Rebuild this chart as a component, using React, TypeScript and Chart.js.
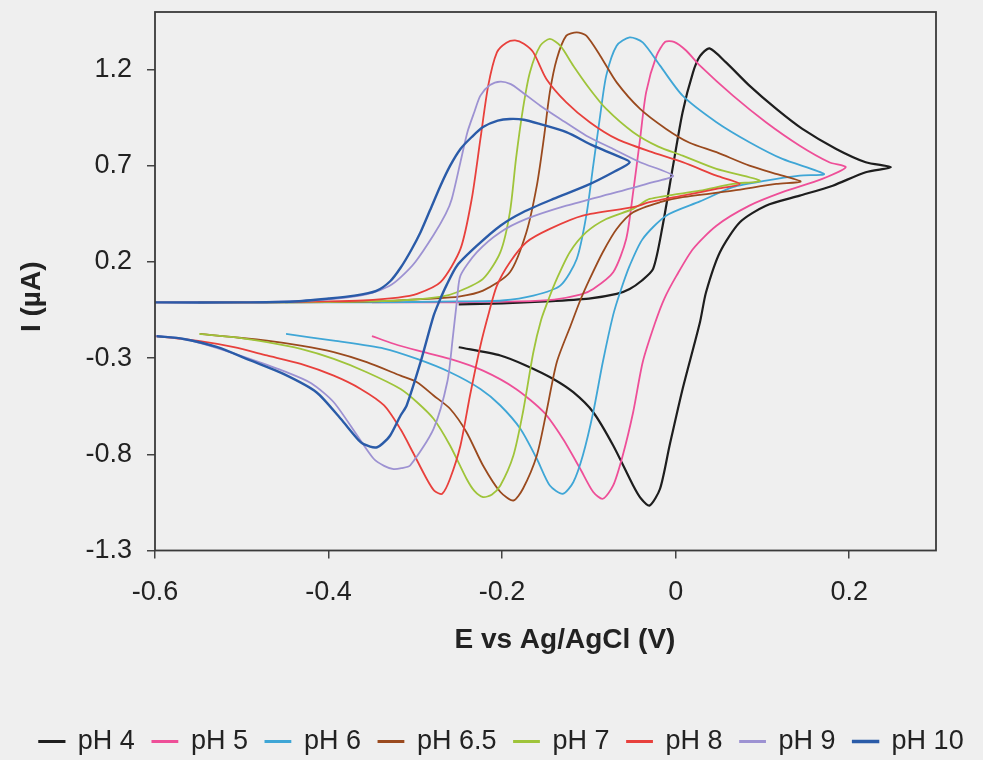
import { useEffect, useRef } from "react";
import { Chart, registerables } from "chart.js";

Chart.register(...registerables);

// ---------- data ----------
const SERIES_NAMES = ["pH 4", "pH 5", "pH 6", "pH 6.5", "pH 7", "pH 8", "pH 9", "pH 10"];
const X_TICKS = [-0.6, -0.4, -0.2, 0, 0.2];
const Y_TICKS = [-1.3, -0.8, -0.3, 0.2, 0.7, 1.2];
const X_TITLE = "E vs Ag/AgCl (V)";
const Y_TITLE = "I (µA)";

const E_PH4 = [-0.25, -0.2, -0.15, -0.1, -0.068, -0.053, -0.04, -0.026, -0.015, -0.003, 0.008, 0.02, 0.028, 0.039, 0.058, 0.085, 0.116, 0.146, 0.185, 0.219, 0.248,
  0.219, 0.181, 0.143, 0.104, 0.074, 0.051, 0.035, 0.028, 0.008, -0.007, -0.018, -0.03, -0.04, -0.049, -0.072, -0.095, -0.118, -0.141, -0.172, -0.202, -0.25];
const I_PH4 = [-0.02, -0.015, -0.005, 0.01, 0.034, 0.06, 0.1, 0.164, 0.389, 0.701, 0.979, 1.186, 1.27, 1.311, 1.238, 1.117, 0.996, 0.892, 0.788, 0.719, 0.693,
  0.667, 0.597, 0.545, 0.493, 0.407, 0.251, 0.043, -0.113, -0.46, -0.754, -0.979, -1.066, -1.03, -0.962, -0.754, -0.581, -0.477, -0.408, -0.339, -0.286, -0.243];

const E_PH5 = [-0.35, -0.25, -0.18, -0.14, -0.11, -0.095, -0.072, -0.057, -0.049, -0.041, -0.034, -0.022, -0.012, -0.002, 0.012, 0.028, 0.066, 0.104, 0.143, 0.177, 0.196,
  0.169, 0.123, 0.085, 0.047, 0.02, 0.001, -0.013, -0.024, -0.038, -0.049, -0.061, -0.072, -0.084, -0.095, -0.11, -0.13, -0.152, -0.184, -0.222, -0.26, -0.298, -0.325, -0.35];
const I_PH5 = [-0.01, -0.01, -0.005, 0.005, 0.03, 0.06, 0.147, 0.32, 0.563, 0.84, 1.083, 1.273, 1.345, 1.345, 1.3, 1.221, 1.065, 0.927, 0.805, 0.719, 0.693,
  0.632, 0.563, 0.493, 0.389, 0.268, 0.129, 0.01, -0.12, -0.321, -0.581, -0.806, -0.962, -1.031, -0.996, -0.875, -0.719, -0.581, -0.46, -0.365, -0.304, -0.26, -0.225, -0.185];

const E_PH6 = [-0.45, -0.35, -0.25, -0.2, -0.164, -0.133, -0.114, -0.103, -0.095, -0.087, -0.08, -0.068, -0.053, -0.038, -0.018, 0.008, 0.047, 0.085, 0.123, 0.171,
  0.143, 0.104, 0.066, 0.028, -0.011, -0.038, -0.053, -0.064, -0.072, -0.084, -0.095, -0.107, -0.118, -0.13, -0.145, -0.16, -0.179, -0.202, -0.225, -0.26, -0.298, -0.336, -0.394, -0.449];
const I_PH6 = [-0.01, -0.01, -0.005, 0.0, 0.025, 0.077, 0.216, 0.441, 0.701, 0.961, 1.169, 1.325, 1.368, 1.342, 1.221, 1.065, 0.927, 0.823, 0.736, 0.658,
  0.649, 0.623, 0.589, 0.515, 0.441, 0.32, 0.181, 0.043, -0.075, -0.321, -0.581, -0.806, -0.945, -1.005, -0.962, -0.823, -0.667, -0.546, -0.46, -0.373, -0.304, -0.25, -0.209, -0.174];

const E_PH65 = [-0.55, -0.45, -0.35, -0.28, -0.25, -0.222, -0.191, -0.172, -0.16, -0.152, -0.145, -0.137, -0.126, -0.114, -0.103, -0.087, -0.068, -0.041, -0.011, 0.016, 0.047, 0.085, 0.123, 0.144,
  0.116, 0.066, 0.008, -0.018, -0.049, -0.068, -0.084, -0.099, -0.11, -0.121, -0.137, -0.149, -0.16, -0.176, -0.187, -0.202, -0.222, -0.241, -0.26, -0.279, -0.298, -0.317, -0.356, -0.394, -0.432, -0.471, -0.509, -0.548];
const I_PH65 = [-0.01, -0.01, -0.005, 0.01, 0.02, 0.051, 0.147, 0.355, 0.597, 0.84, 1.083, 1.256, 1.377, 1.394, 1.377, 1.273, 1.134, 0.996, 0.892, 0.82, 0.771, 0.701, 0.649, 0.618,
  0.606, 0.571, 0.537, 0.511, 0.459, 0.372, 0.251, 0.112, 0.0, -0.13, -0.321, -0.581, -0.806, -0.979, -1.04, -0.996, -0.858, -0.685, -0.563, -0.494, -0.425, -0.391, -0.321, -0.269, -0.235, -0.209, -0.191, -0.174];

const E_PH7 = [-0.55, -0.45, -0.35, -0.3, -0.27, -0.252, -0.222, -0.202, -0.191, -0.184, -0.176, -0.168, -0.156, -0.145, -0.133, -0.118, -0.099, -0.08, -0.049, -0.02, 0.008, 0.047, 0.097,
  0.066, 0.028, -0.03, -0.049, -0.08, -0.103, -0.122, -0.137, -0.147, -0.155, -0.164, -0.176, -0.187, -0.202, -0.212, -0.222, -0.232, -0.241, -0.26, -0.279, -0.298, -0.317, -0.356, -0.394, -0.432, -0.471, -0.509, -0.549];
const I_PH7 = [-0.01, -0.01, -0.005, 0.005, 0.02, 0.043, 0.112, 0.251, 0.459, 0.736, 0.996, 1.186, 1.325, 1.36, 1.325, 1.221, 1.1, 0.996, 0.875, 0.8, 0.753, 0.684, 0.623,
  0.606, 0.571, 0.528, 0.476, 0.424, 0.355, 0.251, 0.112, 0.0, -0.1, -0.269, -0.581, -0.806, -0.962, -1.01, -1.022, -0.99, -0.927, -0.754, -0.615, -0.529, -0.46, -0.373, -0.304, -0.252, -0.217, -0.191, -0.174];

const E_PH8 = [-0.6, -0.5, -0.4, -0.36, -0.32, -0.298, -0.271, -0.248, -0.235, -0.225, -0.216, -0.206, -0.195, -0.185, -0.175, -0.164, -0.149, -0.126, -0.099, -0.068, -0.03, 0.008, 0.047, 0.074,
  0.047, 0.008, -0.03, -0.049, -0.107, -0.145, -0.172, -0.191, -0.206, -0.215, -0.225, -0.237, -0.248, -0.26, -0.269, -0.278, -0.287, -0.303, -0.317, -0.336, -0.363, -0.394, -0.432, -0.471, -0.509, -0.55, -0.6];
const I_PH8 = [-0.01, -0.01, -0.005, 0.0, 0.015, 0.034, 0.095, 0.268, 0.528, 0.84, 1.117, 1.29, 1.34, 1.352, 1.335, 1.29, 1.152, 1.03, 0.927, 0.84, 0.775, 0.719, 0.649, 0.606,
  0.58, 0.545, 0.511, 0.485, 0.441, 0.372, 0.303, 0.199, 0.077, -0.06, -0.235, -0.494, -0.754, -0.927, -1.005, -0.99, -0.927, -0.788, -0.67, -0.546, -0.46, -0.391, -0.33, -0.286, -0.243, -0.21, -0.185];

const E_PH9 = [-0.6, -0.5, -0.42, -0.38, -0.35, -0.33, -0.317, -0.3, -0.279, -0.265, -0.258, -0.248, -0.24, -0.232, -0.225, -0.214, -0.202, -0.19, -0.179, -0.156, -0.133, -0.103, -0.072, -0.041, -0.003,
  -0.026, -0.068, -0.126, -0.172, -0.202, -0.229, -0.248, -0.252, -0.257, -0.263, -0.279, -0.306, -0.316, -0.325, -0.336, -0.348, -0.367, -0.394, -0.42, -0.45, -0.49, -0.53, -0.567, -0.6];
const I_PH9 = [-0.01, -0.01, 0.0, 0.015, 0.04, 0.075, 0.12, 0.2, 0.34, 0.45, 0.528, 0.72, 0.875, 0.98, 1.065, 1.12, 1.138, 1.125, 1.091, 1.013, 0.944, 0.857, 0.788, 0.719, 0.649,
  0.615, 0.563, 0.493, 0.424, 0.355, 0.251, 0.129, 0.0, -0.2, -0.42, -0.667, -0.858, -0.872, -0.877, -0.86, -0.823, -0.702, -0.529, -0.43, -0.37, -0.305, -0.245, -0.2, -0.183];

const E_PH10 = [-0.6, -0.5, -0.44, -0.4, -0.37, -0.345, -0.329, -0.317, -0.305, -0.294, -0.283, -0.271, -0.26, -0.248, -0.235, -0.222, -0.205, -0.191, -0.175, -0.156, -0.126, -0.095, -0.068, -0.053,
  -0.072, -0.103, -0.141, -0.176, -0.202, -0.229, -0.252, -0.264, -0.272, -0.279, -0.294, -0.31, -0.317, -0.329, -0.338, -0.344, -0.352, -0.363, -0.386, -0.414, -0.452, -0.49, -0.528, -0.567, -0.598];
const I_PH10 = [-0.01, -0.01, -0.005, 0.01, 0.025, 0.05, 0.1, 0.17, 0.26, 0.355, 0.47, 0.597, 0.7, 0.788, 0.85, 0.902, 0.935, 0.944, 0.94, 0.917, 0.875, 0.805, 0.753, 0.719,
  0.667, 0.597, 0.528, 0.459, 0.389, 0.285, 0.181, 0.08, 0.0, -0.08, -0.321, -0.546, -0.598, -0.702, -0.745, -0.763, -0.76, -0.737, -0.615, -0.477, -0.382, -0.312, -0.243, -0.2, -0.186];

const SERIES_E = [E_PH4, E_PH5, E_PH6, E_PH65, E_PH7, E_PH8, E_PH9, E_PH10];
const SERIES_I = [I_PH4, I_PH5, I_PH6, I_PH65, I_PH7, I_PH8, I_PH9, I_PH10];

// ---------- styles ----------
const COLORS = ["#1e1e1e", "#ee4f98", "#3fa6d6", "#9a4a1e", "#9fc43a", "#e8403c", "#9d92d2", "#2a5ba8"];
const WIDTHS = [2.2, 1.8, 1.8, 1.8, 1.8, 1.8, 1.8, 2.4];
const FONT = "'Liberation Sans', Arial, Helvetica, sans-serif";
const TEXT = "#222222";

const framePlugin = {
  id: "frame",
  afterDatasetsDraw(chart: any) {
    const { ctx, chartArea } = chart;
    ctx.save();
    ctx.strokeStyle = "#3a3a3a";
    ctx.lineWidth = 1.8;
    ctx.strokeRect(chartArea.left, chartArea.top, chartArea.right - chartArea.left, chartArea.bottom - chartArea.top);
    ctx.restore();
  },
};

const fmt = (v: number) => (Math.abs(v) < 1e-9 ? "0" : v.toFixed(1));
const noPad = (s: any) => { s.paddingTop = 0; s.paddingBottom = 0; s.paddingLeft = 0; s.paddingRight = 0; };

export default function App() {
  const ref = useRef<HTMLCanvasElement>(null);

  useEffect(() => {
    const canvas = ref.current;
    if (!canvas) return;
    const datasets = SERIES_NAMES.map((name, k) => ({
      label: name,
      data: SERIES_E[k].map((e, j) => ({ x: e, y: SERIES_I[k][j] })),
      borderColor: COLORS[k],
      backgroundColor: COLORS[k],
      borderWidth: WIDTHS[k],
      pointRadius: 0,
      showLine: true,
      tension: 0.25,
      fill: false,
      order: SERIES_NAMES.length - 1 - k,
    }));

    const chart = new Chart(canvas, {
      type: "scatter",
      data: { datasets },
      plugins: [framePlugin],
      options: {
        animation: false,
        responsive: true,
        maintainAspectRatio: false,
        layout: { padding: { left: 20, right: 0, top: 12, bottom: -5 } },
        plugins: {
          tooltip: { enabled: false },
          legend: {
            position: "bottom",
            labels: {
              boxWidth: 25,
              boxHeight: 1,
              padding: 17.5,
              color: TEXT,
              font: { family: FONT, size: 27 },
              sort: (a: any, b: any) => a.datasetIndex - b.datasetIndex,
            },
          },
        },
        scales: {
          x: {
            type: "linear",
            min: -0.6,
            max: 0.3,
            afterBuildTicks: (s: any) => { s.ticks = X_TICKS.map((v) => ({ value: v })); },
            afterFit: (s: any) => { s.height = 160; noPad(s); },
            ticks: { color: TEXT, font: { family: FONT, size: 27 }, padding: 18, maxRotation: 0, autoSkip: false, callback: (v: any) => fmt(Number(v)) },
            grid: { display: true, drawOnChartArea: false, drawTicks: true, tickLength: 8, color: "#444", lineWidth: 1.5 },
            border: { display: false },
            title: { display: true, text: "     " + X_TITLE, color: TEXT, font: { family: FONT, size: 28, weight: "bold" }, padding: { top: 0, bottom: 53 } },
          },
          y: {
            type: "linear",
            min: -1.3,
            max: 1.5,
            afterBuildTicks: (s: any) => { s.ticks = Y_TICKS.map((v) => ({ value: v })); },
            afterFit: (s: any) => { s.width = 135; noPad(s); },
            ticks: { color: TEXT, font: { family: FONT, size: 27 }, padding: 15, autoSkip: false, callback: (v: any) => fmt(Number(v)) },
            grid: { display: true, drawOnChartArea: false, drawTicks: true, tickLength: 8, color: "#444", lineWidth: 1.5 },
            border: { display: false },
            title: { display: true, text: Y_TITLE + "    ", color: TEXT, font: { family: FONT, size: 28, weight: "bold" }, padding: { top: -5, bottom: 0 } },
          },
          y2: {
            type: "linear",
            position: "right",
            display: true,
            grid: { display: false },
            ticks: { display: false },
            border: { display: false },
            afterFit: (s: any) => { s.width = 47; noPad(s); },
          },
        },
      },
    } as any);

    return () => chart.destroy();
  }, []);

  return (
    <div style={{ position: "fixed", left: 0, top: 0, width: 983, height: 760, background: "#efefef" }}>
      <canvas ref={ref} />
    </div>
  );
}
